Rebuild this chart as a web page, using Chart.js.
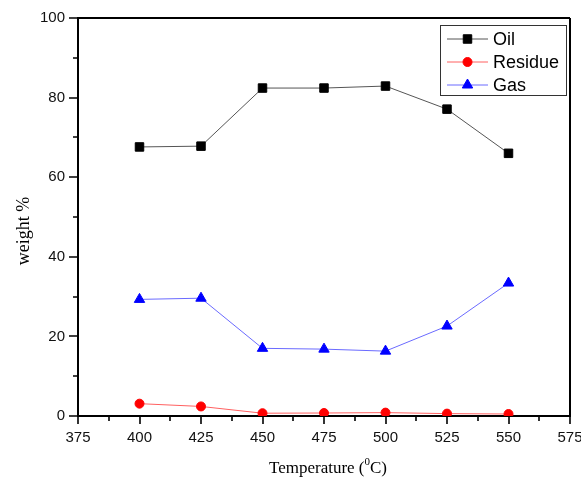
<!DOCTYPE html>
<html>
<head>
<meta charset="utf-8">
<script src="https://cdn.jsdelivr.net/npm/chart.js@4/dist/chart.umd.min.js"></script>
<style>
  html, body { margin: 0; padding: 0; background: #fff; }
  #wrap { width: 581px; height: 479px; position: relative; }
</style>
</head>
<body>
<div id="wrap"><canvas id="c" width="581" height="479"></canvas></div>
<script>
// Product yields versus pyrolysis temperature
const temperatures = [400, 425, 450, 475, 500, 525, 550];
const oilYield     = [67.6, 67.8, 82.4, 82.4, 82.9, 77.1, 66.0];
const residueYield = [3.1, 2.4, 0.7, 0.75, 0.85, 0.6, 0.5];
const gasYield     = [29.3, 29.6, 17.0, 16.8, 16.3, 22.6, 33.4];

const xTickLabels = [375, 400, 425, 450, 475, 500, 525, 550, 575];
const yTickLabels = [0, 20, 40, 60, 80, 100];

const xTitle = 'Temperature (';
const xTitleSup = '0';
const xTitleEnd = 'C)';
const yTitle = 'weight %';

const seriesNames = ['Oil', 'Residue', 'Gas'];

const toPoints = vals => temperatures.map((t, i) => ({ x: t, y: vals[i] }));

const SANS = '"Liberation Sans", Arial, sans-serif';
const SERIF = '"Liberation Serif", "Times New Roman", serif';

// Outward ticks (long at labels, short in between), box frame, titles and legend
const framePlugin = {
  id: 'frame',
  afterDraw(chart) {
    const { ctx, chartArea: a, scales } = chart;
    const xs = scales.x, ys = scales.y;
    ctx.save();
    ctx.strokeStyle = '#000';
    ctx.lineWidth = 2;
    ctx.beginPath();
    ctx.moveTo(a.left, a.top); ctx.lineTo(a.right, a.top);
    ctx.moveTo(a.right, a.top); ctx.lineTo(a.right, a.bottom + 1);
    ctx.stroke();

    ctx.lineWidth = 1.6;
    ctx.beginPath();
    for (let v = 375; v <= 575; v += 12.5) {
      const px = Math.round(xs.getPixelForValue(v));
      const major = xTickLabels.includes(v);
      ctx.moveTo(px, a.bottom); ctx.lineTo(px, a.bottom + (major ? 8 : 5));
    }
    for (let v = 0; v <= 100; v += 10) {
      const py = Math.round(ys.getPixelForValue(v));
      const major = yTickLabels.includes(v);
      ctx.moveTo(a.left, py); ctx.lineTo(a.left - (major ? 9 : 5), py);
    }
    ctx.stroke();

    // x title with superscript degree mark
    ctx.fillStyle = '#000';
    ctx.textBaseline = 'alphabetic';
    ctx.font = '17px ' + SERIF;
    const w1 = ctx.measureText(xTitle).width;
    const w3 = ctx.measureText(xTitleEnd).width;
    ctx.font = '11px ' + SERIF;
    const w2 = ctx.measureText(xTitleSup).width;
    const total = w1 + w2 + w3;
    let x0 = (a.left + a.right) / 2 - total / 2 + 4;
    const base = 473;
    ctx.font = '17px ' + SERIF;
    ctx.textAlign = 'left';
    ctx.fillText(xTitle, x0, base);
    ctx.font = '11px ' + SERIF;
    ctx.fillText(xTitleSup, x0 + w1, base - 8);
    ctx.font = '17px ' + SERIF;
    ctx.fillText(xTitleEnd, x0 + w1 + w2, base);

    // y title
    ctx.save();
    ctx.translate(29, 231);
    ctx.rotate(-Math.PI / 2);
    ctx.textAlign = 'center';
    ctx.font = '18px ' + SERIF;
    ctx.fillText(yTitle, 0, 0);
    ctx.restore();

    // legend box
    const lx = 440.5, ly = 25.5, lw = 126, lh = 70;
    ctx.fillStyle = '#fff';
    ctx.fillRect(lx, ly, lw, lh);
    ctx.strokeStyle = '#333';
    ctx.lineWidth = 1;
    ctx.strokeRect(lx, ly, lw, lh);
    const rows = [39, 62, 85];
    chart.data.datasets.forEach((ds, i) => {
      const y = rows[i];
      ctx.strokeStyle = ds.borderColor;
      ctx.lineWidth = 1;
      ctx.beginPath();
      ctx.moveTo(447, y); ctx.lineTo(488, y);
      ctx.stroke();
      ctx.fillStyle = ds.pointBackgroundColor;
      ctx.strokeStyle = ds.pointBorderColor;
      Chart.helpers.drawPoint(ctx, {
        pointStyle: ds.pointStyle, radius: ds.pointRadius, borderWidth: 1, rotation: 0
      }, 467.5, y);
      ctx.fillStyle = '#000';
      ctx.font = '18px ' + SANS;
      ctx.textAlign = 'left';
      ctx.textBaseline = 'middle';
      ctx.fillText(ds.label, 493, y + 1);
    });
    ctx.restore();
  }
};

new Chart(document.getElementById('c'), {
  type: 'line',
  data: {
    datasets: [
      {
        label: seriesNames[0], data: toPoints(oilYield),
        borderColor: '#555555', borderWidth: 1,
        pointStyle: 'rect', pointRadius: 6,
        pointBackgroundColor: '#000', pointBorderColor: '#000', pointBorderWidth: 1
      },
      {
        label: seriesNames[1], data: toPoints(residueYield),
        borderColor: '#ff6060', borderWidth: 1,
        pointStyle: 'circle', pointRadius: 4.5,
        pointBackgroundColor: '#ff0000', pointBorderColor: '#ff0000', pointBorderWidth: 1
      },
      {
        label: seriesNames[2], data: toPoints(gasYield),
        borderColor: '#6a6aff', borderWidth: 1,
        pointStyle: 'triangle', pointRadius: 6,
        pointBackgroundColor: '#0000ff', pointBorderColor: '#0000ff', pointBorderWidth: 1
      }
    ]
  },
  options: {
    responsive: false,
    animation: false,
    layout: { padding: { top: 18, right: 11, left: 0, bottom: 0 } },
    plugins: { legend: { display: false }, tooltip: { enabled: false } },
    scales: {
      x: {
        type: 'linear', min: 375, max: 575,
        afterBuildTicks(s) { s.ticks = xTickLabels.map(v => ({ value: v })); },
        afterFit(s) { s.height = 63; s.paddingLeft = 0; s.paddingRight = 0; },
        grid: { display: false, drawTicks: false },
        border: { display: true, color: '#000', width: 2 },
        ticks: { color: '#111', padding: 13, font: { family: SANS, size: 15 }, maxRotation: 0 }
      },
      y: {
        type: 'linear', min: 0, max: 100,
        afterBuildTicks(s) { s.ticks = yTickLabels.map(v => ({ value: v })); },
        afterFit(s) { s.width = 78; s.paddingTop = 0; s.paddingBottom = 0; },
        grid: { display: false, drawTicks: false },
        border: { display: true, color: '#000', width: 2 },
        ticks: { color: '#111', padding: 13, font: { family: SANS, size: 15 } }
      }
    }
  },
  plugins: [framePlugin]
});
</script>
</body>
</html>
